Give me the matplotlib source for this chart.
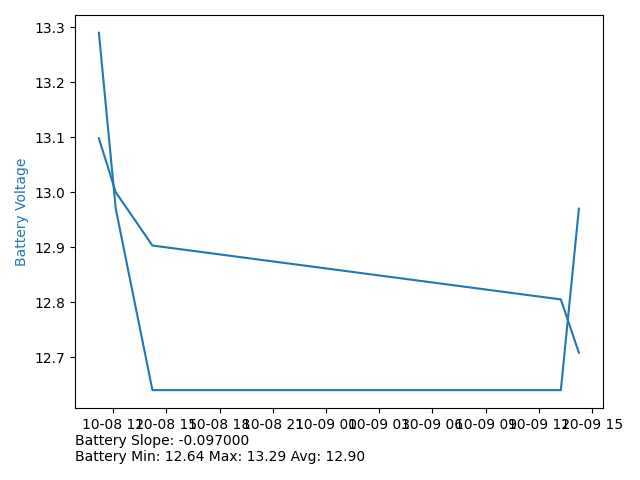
import matplotlib
matplotlib.use('Agg')
import matplotlib.pyplot as plt
import matplotlib.dates as mdates
from datetime import datetime

times = ['2023-10-08 11:12', '2023-10-08 12:09', '2023-10-08 14:13',
         '2023-10-09 13:14', '2023-10-09 14:15']
battery_voltage = [13.29, 12.97, 12.64, 12.64, 12.97]
battery_smoothed = [13.098, 13.0, 12.903, 12.805, 12.708]
battery_slope = -0.097
stats_min, stats_max, stats_avg = 12.64, 13.29, 12.90


def main():
    x = [datetime.strptime(t, '%Y-%m-%d %H:%M') for t in times]
    fig, ax = plt.subplots(figsize=(6.4, 4.8), dpi=100)
    fig.subplots_adjust(left=0.117, right=0.942, top=0.969, bottom=0.15)

    ax.plot(x, battery_voltage, color='tab:blue')
    ax.plot(x, battery_smoothed, color='tab:blue')
    ax.set_ylabel('Battery Voltage', color='tab:blue')
    ax.xaxis.set_major_locator(mdates.HourLocator(byhour=range(0, 24, 3)))
    ax.xaxis.set_major_formatter(mdates.DateFormatter('%m-%d %H'))

    fig.text(0.117, 0.065,
             f'Battery Slope: {battery_slope:.6f}\n'
             f'Battery Min: {stats_min:.2f} Max: {stats_max:.2f} Avg: {stats_avg:.2f}',
             ha='left', va='center')
    fig.savefig('out.png')


if __name__ == '__main__':
    main()
